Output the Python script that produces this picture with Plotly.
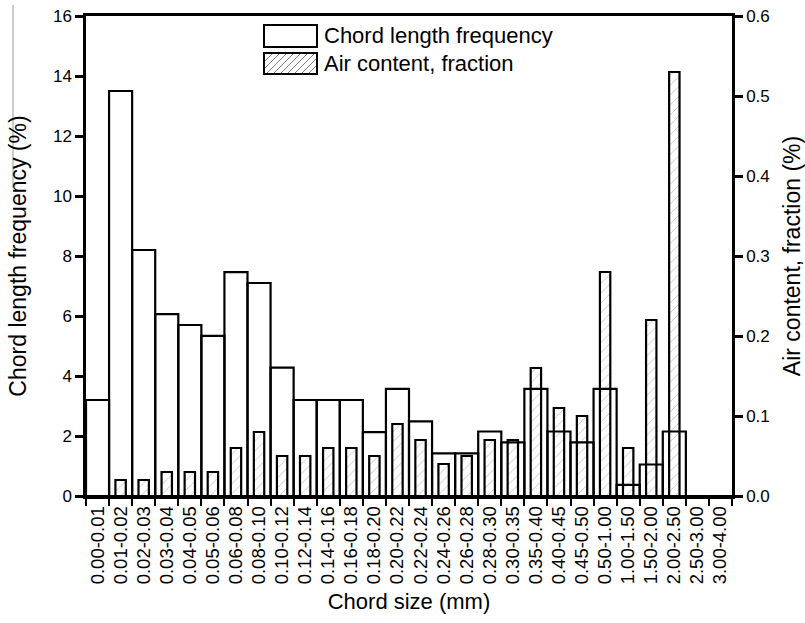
import plotly.graph_objects as go

categories = ["0.00-0.01", "0.01-0.02", "0.02-0.03", "0.03-0.04", "0.04-0.05", "0.05-0.06",
              "0.06-0.08", "0.08-0.10", "0.10-0.12", "0.12-0.14", "0.14-0.16", "0.16-0.18",
              "0.18-0.20", "0.20-0.22", "0.22-0.24", "0.24-0.26", "0.26-0.28", "0.28-0.30",
              "0.30-0.35", "0.35-0.40", "0.40-0.45", "0.45-0.50", "0.50-1.00", "1.00-1.50",
              "1.50-2.00", "2.00-2.50", "2.50-3.00", "3.00-4.00"]

chord_freq = [3.2, 13.5, 8.2, 6.06, 5.7, 5.34, 7.46, 7.1, 4.28, 3.2, 3.2, 3.2,
              2.13, 3.57, 2.49, 1.42, 1.42, 2.15, 1.79, 3.57, 2.15, 1.79, 3.57, 0.37,
              1.05, 2.15, 0, 0]

air_content = [0, 0.02, 0.02, 0.03, 0.03, 0.03, 0.06, 0.08, 0.05, 0.05, 0.06, 0.06,
               0.05, 0.09, 0.07, 0.04, 0.05, 0.07, 0.07, 0.16, 0.11, 0.10, 0.28, 0.06,
               0.22, 0.53, 0, 0]

series_names = ["Chord length frequency", "Air content, fraction"]

FONT = "Arial, Liberation Sans, sans-serif"
W, H = 805, 623
ML, MR, MT, MB = 86, 73, 16, 127
PW, PH = W - ML - MR, H - MT - MB


def px(x):
    return (x - ML) / PW


def py(y):
    return (H - MB - y) / PH


fig = go.Figure()

fig.add_trace(go.Bar(
    x=categories, y=air_content, name=series_names[1],
    yaxis="y", width=0.45, showlegend=False,
    marker=dict(color="white", line=dict(color="black", width=2.2),
                pattern=dict(shape="/", fgcolor="#808080", bgcolor="white", size=7, solidity=0.12)),
))

fig.add_trace(go.Bar(
    x=categories, y=chord_freq, name=series_names[0],
    yaxis="y2", width=1.0, showlegend=False,
    marker=dict(color="rgba(255,255,255,0)", line=dict(color="black", width=2.2)),
))

# custom legend (wide rectangular keys as in the original)
shapes = []
annotations = []
key_x0, key_x1 = 264, 317
rows = [(25, 47), (53, 74)]
for i, (y0, y1) in enumerate(rows):
    shapes.append(dict(type="rect", xref="paper", yref="paper",
                       x0=px(key_x0), x1=px(key_x1), y0=py(y1), y1=py(y0),
                       line=dict(color="black", width=2), fillcolor="white"))
    annotations.append(dict(xref="paper", yref="paper", x=px(322), y=py((y0 + y1) / 2),
                            xanchor="left", yanchor="middle", showarrow=False,
                            text=series_names[i], font=dict(size=22, family=FONT, color="black")))
# hatching for second key
y0, y1 = rows[1]
hh = y1 - y0 - 2
step = 7
start = key_x0 + 1 - hh
while start < key_x1:
    xa, ya = start, y1 - 1
    xb, yb = start + hh, y0 + 1
    if xa < key_x0 + 1:
        ya -= (key_x0 + 1 - xa)
        xa = key_x0 + 1
    if xb > key_x1 - 1:
        yb += (xb - (key_x1 - 1))
        xb = key_x1 - 1
    if xb > xa:
        shapes.append(dict(type="line", xref="paper", yref="paper",
                           x0=px(xa), y0=py(ya), x1=px(xb), y1=py(yb),
                           line=dict(color="#808080", width=1)))
    start += step

# faint vertical artifact line at left edge of original image
shapes.append(dict(type="line", xref="paper", yref="paper",
                   x0=px(13), x1=px(13), y0=py(5), y1=py(188),
                   line=dict(color="#9a9a9a", width=1)))

fig.update_layout(
    width=W, height=H,
    margin=dict(l=ML, r=MR, t=MT, b=MB),
    plot_bgcolor="white", paper_bgcolor="white",
    barmode="overlay",
    font=dict(family=FONT, size=17, color="black"),
    showlegend=False,
    shapes=shapes,
    annotations=annotations,
    xaxis=dict(
        type="category", tickson="boundaries", ticks="outside", ticklen=7, tickwidth=2.2,
        tickcolor="black", showline=True, linewidth=2.5, linecolor="black", mirror=True,
        tickangle=-90, tickfont=dict(size=18.5, family=FONT), showgrid=False,
        title=dict(text="Chord size (mm)", font=dict(size=22, family=FONT), standoff=11),
        range=[-0.5, len(categories) - 0.5], automargin=False,
    ),
    yaxis=dict(
        side="right", range=[0, 0.6], dtick=0.1, tickformat=".1f",
        ticks="outside", ticklen=8, tickwidth=2.5, tickcolor="black",
        showline=True, linewidth=2.5, linecolor="black", showgrid=False, zeroline=False,
        tickfont=dict(size=17, family=FONT), automargin=False,
        title=dict(text="Air content, fraction (%)", font=dict(size=23, family=FONT), standoff=22),
    ),
    yaxis2=dict(
        side="left", overlaying="y", range=[0, 16], dtick=2,
        ticks="outside", ticklen=8, tickwidth=2.5, tickcolor="black",
        showline=True, linewidth=2.5, linecolor="black", showgrid=False, zeroline=False,
        tickfont=dict(size=17, family=FONT), automargin=False,
        title=dict(text="Chord length frequency (%)", font=dict(size=23, family=FONT), standoff=20),
    ),
)

fig.write_html("out.html")
